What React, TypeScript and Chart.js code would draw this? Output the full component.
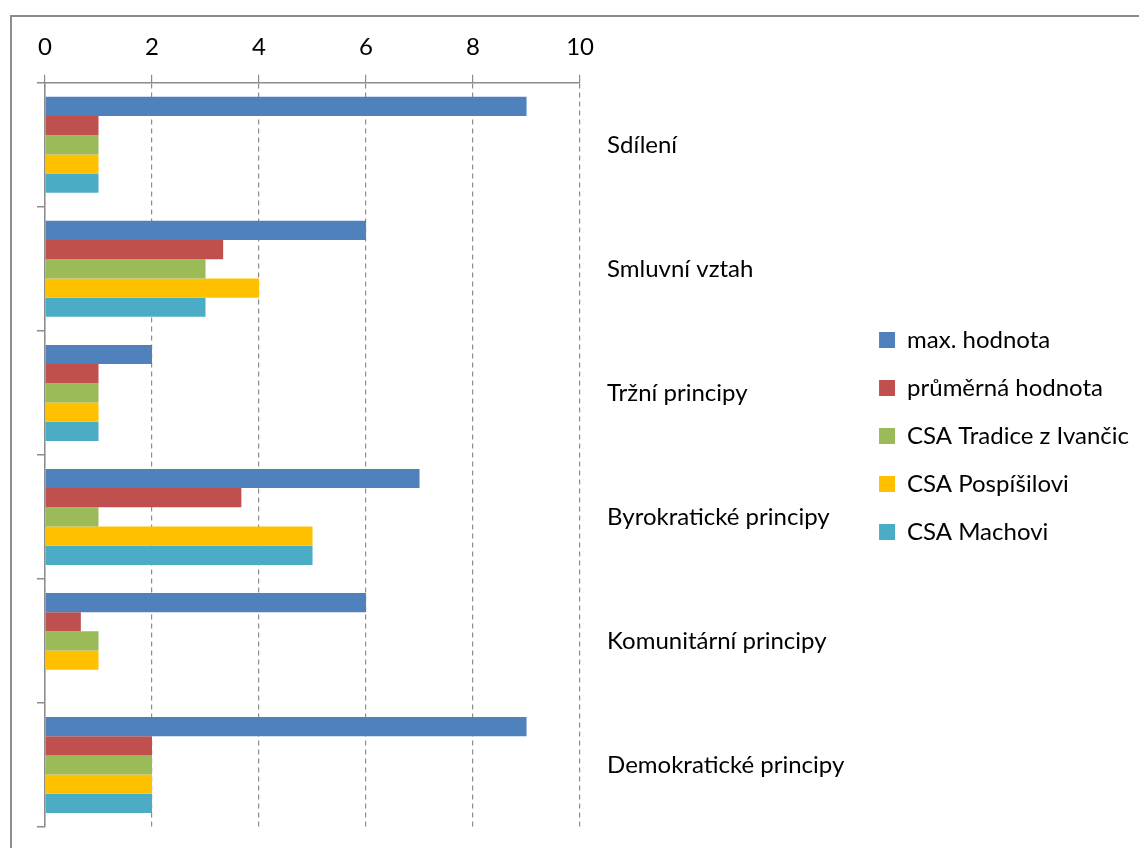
import React, { useEffect, useRef } from "react";
import { Chart, registerables } from "chart.js";

Chart.register(...registerables);

const categories = [
  "Sdílení",
  "Smluvní vztah",
  "Tržní principy",
  "Byrokratické principy",
  "Komunitární principy",
  "Demokratické principy",
];
const seriesNames = [
  "max. hodnota",
  "průměrná hodnota",
  "CSA Tradice z Ivančic",
  "CSA Pospíšilovi",
  "CSA Machovi",
];
const maxValues = [9, 6, 2, 7, 6, 9];
const avgValues = [1, 3.33, 1, 3.67, 0.67, 2];
const tradiceValues = [1, 3, 1, 1, 1, 2];
const pospisiloviValues = [1, 4, 1, 5, 1, 2];
const machoviValues = [1, 3, 1, 5, 0, 2];
const seriesColors = ["#4F81BD", "#C0504D", "#9BBB59", "#FFC000", "#4BACC6"];
const xMin = 0;
const xMax = 10;
const xStep = 2;

const FONT = "Lato, 'Open Sans', sans-serif";
const GRAY = "#8c8c8c";

export default function App() {
  const ref = useRef<HTMLCanvasElement | null>(null);

  useEffect(() => {
    if (!ref.current) return;
    const values = [maxValues, avgValues, tradiceValues, pospisiloviValues, machoviValues];
    const chart = new Chart(ref.current, {
      type: "bar",
      data: {
        labels: categories,
        datasets: seriesNames.map((name, i) => ({
          label: name,
          data: values[i],
          backgroundColor: seriesColors[i],
          borderColor: seriesColors[i],
          borderWidth: 0,
          yAxisID: "y",
          xAxisID: "x",
          categoryPercentage: 0.774,
          barPercentage: 1,
        })),
      },
      options: {
        indexAxis: "y",
        animation: false,
        responsive: false,
        layout: { padding: { left: 37, top: 20, bottom: 21, right: 0 } },
        plugins: {
          tooltip: { enabled: false },
          legend: {
            position: "right",
            align: "start",
            maxWidth: 500,
            title: {
              display: true,
              text: "",
              font: { size: 12 },
              padding: { top: 269.6, bottom: 0 },
            },
            labels: {
              boxWidth: 16,
              boxHeight: 16,
              padding: 24,
              color: "#000",
              font: { family: FONT, size: 24 },
            },
          },
        },
        scales: {
          x: {
            type: "linear",
            position: "top",
            min: xMin,
            max: xMax,
            ticks: {
              stepSize: xStep,
              color: "#000",
              padding: 13,
              font: { family: FONT, size: 24 },
            },
            grid: {
              color: GRAY,
              lineWidth: 1.2,
              tickLength: 8,
              tickColor: GRAY,
              tickBorderDash: [],
            },
            border: { display: true, color: GRAY, width: 1.5, dash: [5, 4] },
            afterFit: (scale: any) => {
              scale.paddingLeft = 0;
              scale.paddingRight = 0;
            },
          },
          y: {
            type: "category",
            position: "left",
            offset: true,
            ticks: { display: false },
            grid: {
              offset: true,
              drawOnChartArea: false,
              tickLength: 8,
              color: GRAY,
              tickColor: GRAY,
              lineWidth: 1.5,
            },
            border: { display: true, color: GRAY, width: 1.5 },
            afterFit: (scale: any) => {
              scale.paddingTop = 0;
              scale.paddingBottom = 0;
            },
          },
          y2: {
            type: "category",
            position: "right",
            offset: true,
            grid: { display: false, drawTicks: false },
            border: { display: false },
            ticks: {
              color: "#000",
              padding: 27,
              font: { family: FONT, size: 24 },
            },
            afterFit: (scale: any) => {
              scale.width = 275;
              scale.paddingTop = 0;
              scale.paddingBottom = 0;
            },
          },
        },
      } as any,
    });
    return () => chart.destroy();
  }, []);

  return (
    <div style={{ position: "absolute", left: 0, top: 0, width: 1139, height: 848, background: "#fff" }}>
      <div
        style={{
          position: "absolute",
          left: 10,
          top: 15,
          width: 1140,
          height: 840,
          borderTop: `2px solid ${GRAY}`,
          borderLeft: `2px solid ${GRAY}`,
        }}
      />
      <canvas ref={ref} width={1139} height={848} style={{ position: "absolute", left: 0, top: 0 }} />
    </div>
  );
}
